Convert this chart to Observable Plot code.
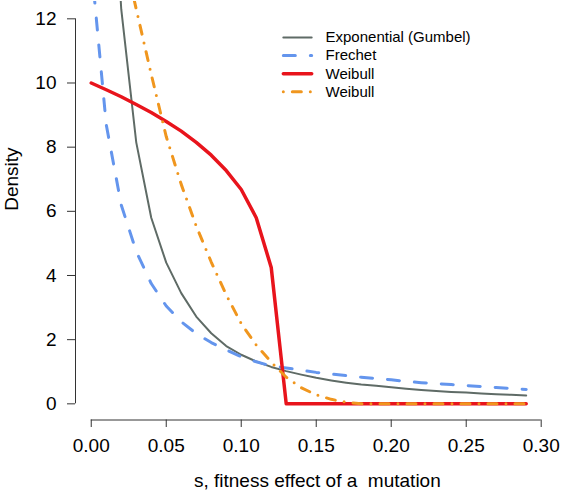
<!DOCTYPE html>
<html><head><meta charset="utf-8">
<script src="https://cdn.jsdelivr.net/npm/d3@7"></script>
<script src="https://cdn.jsdelivr.net/npm/@observablehq/plot@0.6"></script>
<style>
body{margin:0;background:#fff}
#chart svg{font-family:"Liberation Sans",Arial,Helvetica,sans-serif}
#chart text{white-space:pre}
</style>
</head><body><div id="chart"></div>
<script>
// fitness effect s
const s = [0.00,0.01,0.02,0.03,0.04,0.05,0.06,0.07,0.08,0.09,0.10,0.11,0.12,0.13,0.14,0.15,0.16,0.17,0.18,0.19,0.20,0.21,0.22,0.23,0.24,0.25,0.26,0.27,0.28,0.29];
// Exponential (Gumbel) density (grey)
const gumbel = [null,20.0,12.3,8.15,5.8,4.4,3.45,2.72,2.2,1.8,1.53,1.32,1.15,1.02,0.91,0.81,0.73,0.66,0.60,0.56,0.52,0.47,0.43,0.40,0.37,0.35,0.32,0.30,0.28,0.26];
// Frechet density (blue)
const frechet = [13.7,8.7,6.2,4.75,3.75,3.05,2.56,2.19,1.91,1.68,1.47,1.31,1.18,1.12,1.05,0.98,0.93,0.88,0.83,0.79,0.75,0.70,0.66,0.63,0.60,0.57,0.54,0.51,0.48,0.45];
// Weibull density (red)
const weibullA = [10.0,9.79,9.57,9.33,9.08,8.80,8.50,8.15,7.75,7.27,6.68,5.8,4.25,0,0,0,0,0,0,0,0,0,0,0,0,0,0,0,0,0];
// Weibull density (orange)
const weibullB = [19.5,16.8,14.4,12.3,10.27,8.33,6.84,5.54,4.42,3.40,2.50,1.83,1.30,0.83,0.50,0.28,0.14,0.05,0,0,0,0,0,0,0,0,0,0,0,0];

const seriesNames = ["Exponential (Gumbel)","Frechet","Weibull","Weibull"];
const seriesValues = [gumbel, frechet, weibullA, weibullB];

const xTicks = [0.00,0.05,0.10,0.15,0.20,0.25,0.30];
const yTicks = [0,2,4,6,8,10,12];
const xLabel = "s, fitness effect of a\u00a0 mutation";
const yLabel = "Density";

const styles = [
  {stroke:"#5f6b66", strokeWidth:2, strokeDasharray:null},
  {stroke:"#6495ed", strokeWidth:3, strokeDasharray:"12,15"},
  {stroke:"#e8141c", strokeWidth:3.5, strokeDasharray:null},
  {stroke:"#f0961e", strokeWidth:3, strokeDasharray:"0,9,9,9"}
];

const xDomain = [-0.0105, 0.312];
const yDomain = [-0.504, 12.54];

const lineMarks = seriesValues.map((vals, i) => {
  const data = s.map((x, j) => ({s: x, d: vals[j]}));
  return Plot.line(data, {
    x: "s", y: "d",
    stroke: styles[i].stroke,
    strokeWidth: styles[i].strokeWidth,
    strokeDasharray: styles[i].strokeDasharray,
    strokeLinecap: "round",
    strokeLinejoin: "round",
    clip: true
  });
});

// legend layout (in data units of the plot)
const legX1 = 0.1284, legX2 = 0.1473, legTextX = 0.1562, legTop = 11.42, legStep = 0.565;
const legend = seriesNames.map((name, i) => ({name, i, y: legTop - i * legStep}));

const legendMarks = [
  ...legend.map(r => Plot.ruleY([r], {
    y: "y", x1: legX1, x2: legX2,
    stroke: styles[r.i].stroke,
    strokeWidth: styles[r.i].strokeWidth,
    strokeDasharray: styles[r.i].strokeDasharray,
    strokeLinecap: "round"
  })),
  Plot.text(legend, {x: legTextX, y: "y", text: "name", textAnchor: "start", lineAnchor: "middle", fontSize: 15, fill: "#000"})
];

const chart = Plot.plot({
  width: 561,
  height: 492,
  marginLeft: 75,
  marginRight: 2.3,
  marginTop: 1,
  marginBottom: 72.5,
  x: {domain: xDomain},
  y: {domain: yDomain},
  style: {fontSize: "19px", fontFamily: "'Liberation Sans', Arial, Helvetica, sans-serif", background: "#fff", color: "#000"},
  marks: [
    Plot.axisX({ticks: xTicks, tickFormat: d => d.toFixed(2), tickSize: 7.5, tickPadding: 11, label: null, fontSize: 19, stroke: "#333"}),
    Plot.axisY({ticks: yTicks, tickFormat: d => String(d), tickSize: 8, tickPadding: 11, label: null, fontSize: 19, stroke: "#333"}),
    Plot.ruleY([yDomain[0]], {x1: xTicks[0], x2: xTicks[xTicks.length-1], stroke: "#333"}),
    Plot.ruleX([xDomain[0]], {y1: yTicks[0], y2: yTicks[yTicks.length-1], stroke: "#333"}),
    Plot.text([xLabel], {frameAnchor: "bottom", dy: 61, lineAnchor: "middle", fontSize: 19, fill: "#000"}),
    Plot.text([yLabel], {frameAnchor: "left", dx: -64, rotate: -90, lineAnchor: "middle", fontSize: 19, fill: "#000"}),
    ...lineMarks,
    ...legendMarks
  ]
});
document.getElementById("chart").append(chart);
</script>
</body></html>
